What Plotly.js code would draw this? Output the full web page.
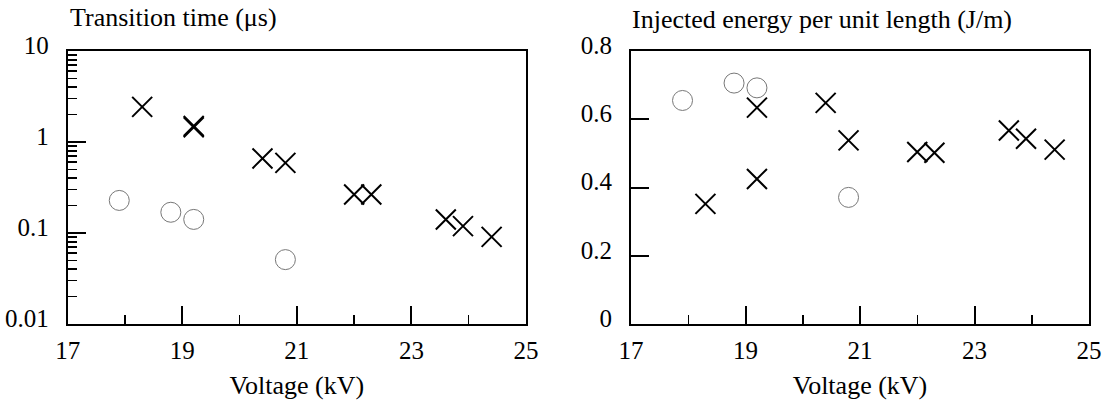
<!DOCTYPE html>
<html>
<head>
<meta charset="utf-8">
<script src="https://cdn.plot.ly/plotly-3.0.1.min.js"></script>
<style>html,body{margin:0;padding:0;background:#fff;}#chart{width:1107px;height:407px;}</style>
</head>
<body>
<div id="chart"></div>
<script>
// Data
var voltCircle   = [17.9, 18.8, 19.2, 20.8];
var timeCircle   = [0.228, 0.169, 0.141, 0.051];
var energyCircle = [0.655, 0.706, 0.692, 0.371];

var voltCross   = [18.3, 19.2, 19.2, 20.4, 20.8, 22.0, 22.3, 23.6, 23.9, 24.4];
var timeCross   = [2.43, 1.50, 1.45, 0.66, 0.59, 0.265, 0.265, 0.141, 0.119, 0.0906];
var energyCross = [0.352, 0.634, 0.425, 0.648, 0.538, 0.504, 0.502, 0.567, 0.543, 0.511];

var xTickVals = [17, 19, 21, 23, 25];
var xTickText = ['17', '19', '21', '23', '25'];
var yLogTickVals = [0.01, 0.1, 1, 10];
var yLogTickText = ['0.01', '0.1', '1', '10'];
var yLinTickVals = [0, 0.2, 0.4, 0.6, 0.8];
var yLinTickText = ['0', '0.2', '0.4', '0.6', '0.8'];

var FONT = 'Liberation Serif, Times New Roman, serif';

var crossStyle = {symbol: 'x-thin-open', size: 20, color: '#000', line: {width: 2, color: '#000'}};
var circleStyle = {symbol: 'circle-open', size: 20, color: '#777', line: {width: 1, color: '#777'}};

var traces = [
  {x: voltCircle, y: timeCircle, mode: 'markers', marker: circleStyle, xaxis: 'x', yaxis: 'y', name: 'circle'},
  {x: voltCross, y: timeCross, mode: 'markers', marker: crossStyle, xaxis: 'x', yaxis: 'y', name: 'cross'},
  {x: voltCircle, y: energyCircle, mode: 'markers', marker: circleStyle, xaxis: 'x2', yaxis: 'y2', name: 'circle'},
  {x: voltCross, y: energyCross, mode: 'markers', marker: crossStyle, xaxis: 'x2', yaxis: 'y2', name: 'cross'}
];

function xAxis(domain, anchor) {
  return {
    domain: domain, anchor: anchor, range: [17, 25],
    tickmode: 'array', tickvals: xTickVals, ticktext: xTickText,
    ticks: 'inside', ticklen: 18, tickwidth: 2, tickcolor: '#000',
    minor: {dtick: 1, tick0: 17, ticks: 'inside', ticklen: 9, tickwidth: 1.5, tickcolor: '#000', showgrid: false},
    showline: true, mirror: true, linewidth: 2, linecolor: '#000',
    showgrid: false, zeroline: false, automargin: false,
    ticklabelstandoff: 3,
    tickfont: {family: FONT, size: 25, color: '#000'},
    title: {text: 'Voltage (kV)', font: {family: FONT, size: 26, color: '#000'}, standoff: 13}
  };
}

var layout = {
  width: 1107, height: 407,
  margin: {l: 0, r: 0, t: 51, b: 83},
  paper_bgcolor: '#fff', plot_bgcolor: '#fff',
  showlegend: false,
  font: {family: FONT, color: '#000'},
  xaxis: xAxis([67.7 / 1107, 526 / 1107], 'y'),
  xaxis2: xAxis([631 / 1107, 1089 / 1107], 'y2'),
  yaxis: {
    type: 'log', range: [-2, 1], anchor: 'x',
    tickmode: 'array', tickvals: yLogTickVals, ticktext: yLogTickText,
    ticks: 'inside', ticklen: 18, tickwidth: 2, tickcolor: '#000',
    minor: {dtick: 'D1', ticks: 'inside', ticklen: 9, tickwidth: 1.5, tickcolor: '#000', showgrid: false},
    showline: true, mirror: true, linewidth: 2, linecolor: '#000',
    showgrid: false, zeroline: false, automargin: false,
    ticklabelstandoff: 12, ticklabelshift: -6,
    tickfont: {family: FONT, size: 25, color: '#000'}
  },
  yaxis2: {
    range: [0, 0.8], anchor: 'x2',
    tickmode: 'array', tickvals: yLinTickVals, ticktext: yLinTickText,
    ticks: 'inside', ticklen: 18, tickwidth: 2, tickcolor: '#000',
    showline: true, mirror: true, linewidth: 2, linecolor: '#000',
    showgrid: false, zeroline: false, automargin: false,
    ticklabelstandoff: 12, ticklabelshift: -6,
    tickfont: {family: FONT, size: 25, color: '#000'}
  },
  annotations: [
    {text: 'Transition time (μs)', xref: 'paper', yref: 'paper', x: 68 / 1107, y: (324 - 17) / 273,
     xanchor: 'left', yanchor: 'middle', showarrow: false, font: {family: FONT, size: 26, color: '#000'}},
    {text: 'Injected energy per unit length (J/m)', xref: 'paper', yref: 'paper', x: 630 / 1107, y: (324 - 20) / 273,
     xanchor: 'left', yanchor: 'middle', showarrow: false, font: {family: FONT, size: 26, color: '#000'}}
  ]
};

Plotly.newPlot('chart', traces, layout, {staticPlot: true, displayModeBar: false});
</script>
</body>
</html>
